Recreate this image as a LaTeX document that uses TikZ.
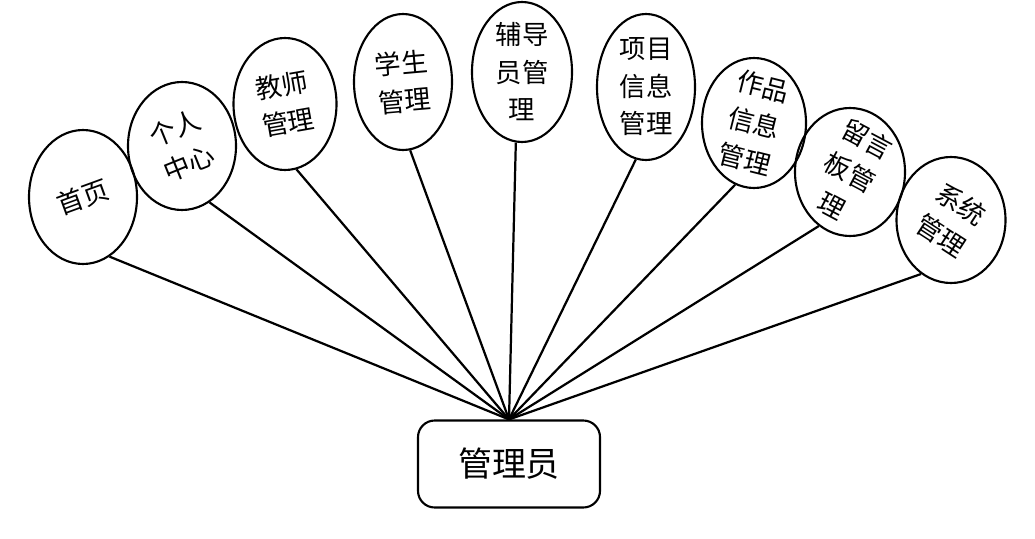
\documentclass[tikz,border=0pt]{standalone}
\usepackage{fontspec}
\newfontfamily\cjk{Noto Sans CJK SC}
\usetikzlibrary{shapes.geometric}
\begin{document}
\begin{tikzpicture}[x=0.03cm,y=-0.03cm,
  oval/.style={draw, ellipse, line width=1.8pt, inner sep=0pt},
  lbl/.style={align=center, inner sep=0pt, font=\cjk\fontsize{22.5}{32}\selectfont},
  hubbox/.style={draw, rounded corners=0.5cm, line width=1.8pt, minimum width=5.46cm, minimum height=2.61cm, font=\cjk\fontsize{29}{34}\selectfont},
  link/.style={line width=1.9pt}]
\useasboundingbox (0,0) rectangle (1035,539);
\node[hubbox] (hub) at (509,464) {管理员};
\node[oval, minimum width=3.24cm, minimum height=4.02cm] (e1) at (83,197) {};
\node[oval, minimum width=3.24cm, minimum height=3.84cm] (e2) at (182,146) {};
\node[oval, minimum width=3.09cm, minimum height=3.96cm] (e3) at (285,104) {};
\node[oval, minimum width=2.94cm, minimum height=4.08cm] (e4) at (403,82) {};
\node[oval, minimum width=3.0cm, minimum height=4.2cm] (e5) at (522,72) {};
\node[oval, minimum width=2.94cm, minimum height=4.38cm] (e6) at (646,87) {};
\node[oval, minimum width=3.12cm, minimum height=3.9cm] (e7) at (754,123) {};
\node[oval, minimum width=3.3cm, minimum height=3.84cm] (e8) at (850,172) {};
\node[oval, minimum width=3.27cm, minimum height=3.78cm] (e9) at (951,220) {};
\node[lbl, rotate=20] (t1) at (e1.center) {首页};
\node[lbl, rotate=22] (t2) at (e2.center) {个人\\中心};
\node[lbl, rotate=10] (t3) at (e3.center) {教师\\管理};
\node[lbl, rotate=5] (t4) at (e4.center) {学生\\管理};
\node[lbl] (t5) at (e5.center) {辅导\\员管\\理};
\node[lbl] (t6) at (e6.center) {项目\\信息\\管理};
\node[lbl, rotate=-14] (t7) at (e7.center) {作品\\信息\\管理};
\node[lbl, rotate=-28] (t8) at (e8.center) {留言\\板管\\理};
\node[lbl, rotate=-33] (t9) at (e9.center) {系统\\管理};
\draw[link] (e1.-66) -- (hub.north);
\draw[link] (e2.-64) -- (hub.north);
\draw[link] (e3.-80) -- (hub.north);
\draw[link] (e4.-84) -- (hub.north);
\draw[link] (e5.-95) -- (hub.north);
\draw[link] (e6.-98) -- (hub.north);
\draw[link] (e7.-107) -- (hub.north);
\draw[link] (e8.-120) -- (hub.north);
\draw[link] (e9.-119) -- (hub.north);
\end{tikzpicture}
\end{document}
